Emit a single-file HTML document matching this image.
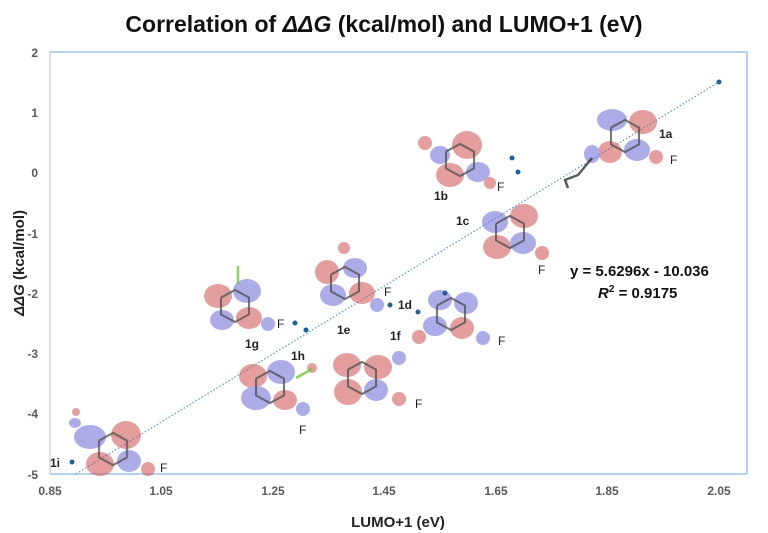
<!DOCTYPE html>
<html><head><meta charset="utf-8"><style>
html,body{margin:0;padding:0;background:#fff;}
svg{display:block;font-family:"Liberation Sans",sans-serif;}
</style></head><body>
<svg width="768" height="533" viewBox="0 0 768 533" xmlns="http://www.w3.org/2000/svg">
<defs>
<g id="ring">
  <polyline points="-20,-12 0,-23 20,-12 20,12 0,23 -20,12 -20,-12" fill="none" stroke="#555" stroke-width="3"/>
</g>
</defs>
<text x="384" y="32" text-anchor="middle" font-size="23" font-weight="bold" fill="#111">Correlation of <tspan font-style="italic">ΔΔG</tspan> (kcal/mol) and LUMO+1 (eV)</text>
<line x1="50" y1="52" x2="747" y2="52" stroke="#9cc3e6" stroke-width="1.5"/>
<line x1="747" y1="52" x2="747" y2="474" stroke="#9cc3e6" stroke-width="1.5"/>
<line x1="50" y1="52" x2="50" y2="474" stroke="#d9d9d9" stroke-width="1.5"/>
<line x1="50" y1="474" x2="747" y2="474" stroke="#9cc3e6" stroke-width="1.5"/>
<g font-size="12" font-weight="bold" fill="#595959" text-anchor="end">
<text x="38" y="57">2</text><text x="38" y="117">1</text><text x="38" y="177">0</text>
<text x="38" y="238">-1</text><text x="38" y="298">-2</text><text x="38" y="358">-3</text>
<text x="38" y="418">-4</text><text x="38" y="479">-5</text>
</g>
<g font-size="12" font-weight="bold" fill="#595959" text-anchor="middle">
<text x="50" y="495">0.85</text><text x="161" y="495">1.05</text><text x="273" y="495">1.25</text>
<text x="384" y="495">1.45</text><text x="496" y="495">1.65</text><text x="607" y="495">1.85</text><text x="719" y="495">2.05</text>
</g>
<text x="398" y="527" text-anchor="middle" font-size="15" font-weight="bold" fill="#222">LUMO+1 (eV)</text>
<text transform="translate(24,263) rotate(-90)" text-anchor="middle" font-size="15" font-weight="bold" fill="#222"><tspan font-style="italic">ΔΔG</tspan> (kcal/mol)</text>
<line x1="76" y1="474" x2="719" y2="82" stroke="#5b9bd5" stroke-width="1.3" stroke-dasharray="1.5,2"/>
<g opacity="0.55">
<ellipse cx="612" cy="120" rx="15" ry="11" fill="#6a6ad8"/><ellipse cx="643" cy="122" rx="14" ry="12" fill="#d05050"/>
<ellipse cx="610" cy="152" rx="12" ry="11" fill="#d05050"/><ellipse cx="637" cy="150" rx="13" ry="11" fill="#6a6ad8"/>
<ellipse cx="592" cy="154" rx="8" ry="9" fill="#6a6ad8"/><ellipse cx="656" cy="157" rx="7" ry="7" fill="#d05050"/>
<ellipse cx="425" cy="143" rx="7" ry="7" fill="#d05050"/><ellipse cx="467" cy="145" rx="15" ry="14" fill="#d05050"/>
<ellipse cx="440" cy="155" rx="10" ry="9" fill="#6a6ad8"/><ellipse cx="450" cy="175" rx="14" ry="12" fill="#d05050"/>
<ellipse cx="478" cy="172" rx="12" ry="10" fill="#6a6ad8"/><ellipse cx="490" cy="183" rx="6" ry="6" fill="#d05050"/>
<ellipse cx="495" cy="222" rx="13" ry="11" fill="#6a6ad8"/><ellipse cx="524" cy="216" rx="14" ry="12" fill="#d05050"/>
<ellipse cx="497" cy="247" rx="14" ry="12" fill="#d05050"/><ellipse cx="523" cy="243" rx="13" ry="11" fill="#6a6ad8"/>
<ellipse cx="542" cy="253" rx="7" ry="7" fill="#d05050"/>
<ellipse cx="344" cy="248" rx="6" ry="6" fill="#d05050"/><ellipse cx="355" cy="268" rx="12" ry="10" fill="#6a6ad8"/>
<ellipse cx="327" cy="272" rx="12" ry="12" fill="#d05050"/><ellipse cx="333" cy="295" rx="13" ry="11" fill="#6a6ad8"/>
<ellipse cx="362" cy="293" rx="13" ry="11" fill="#d05050"/><ellipse cx="377" cy="305" rx="7" ry="7" fill="#6a6ad8"/>
<ellipse cx="440" cy="300" rx="12" ry="10" fill="#6a6ad8"/><ellipse cx="466" cy="303" rx="12" ry="11" fill="#6a6ad8"/>
<ellipse cx="435" cy="326" rx="12" ry="10" fill="#6a6ad8"/><ellipse cx="462" cy="328" rx="12" ry="11" fill="#d05050"/>
<ellipse cx="419" cy="337" rx="7" ry="7" fill="#d05050"/><ellipse cx="483" cy="338" rx="7" ry="7" fill="#6a6ad8"/>
<ellipse cx="218" cy="296" rx="14" ry="12" fill="#d05050"/><ellipse cx="247" cy="291" rx="14" ry="12" fill="#6a6ad8"/>
<ellipse cx="222" cy="320" rx="12" ry="10" fill="#6a6ad8"/><ellipse cx="249" cy="318" rx="13" ry="11" fill="#d05050"/>
<ellipse cx="268" cy="324" rx="7" ry="7" fill="#6a6ad8"/>
<ellipse cx="253" cy="376" rx="14" ry="12" fill="#d05050"/><ellipse cx="281" cy="372" rx="14" ry="12" fill="#6a6ad8"/>
<ellipse cx="256" cy="398" rx="15" ry="12" fill="#6a6ad8"/><ellipse cx="285" cy="400" rx="12" ry="10" fill="#d05050"/>
<ellipse cx="303" cy="409" rx="7" ry="7" fill="#6a6ad8"/><ellipse cx="312" cy="368" rx="5" ry="5" fill="#d05050"/>
<ellipse cx="347" cy="365" rx="14" ry="12" fill="#d05050"/><ellipse cx="378" cy="367" rx="14" ry="12" fill="#d05050"/>
<ellipse cx="348" cy="392" rx="14" ry="13" fill="#d05050"/><ellipse cx="376" cy="390" rx="12" ry="11" fill="#6a6ad8"/>
<ellipse cx="399" cy="358" rx="7" ry="7" fill="#6a6ad8"/><ellipse cx="399" cy="399" rx="7" ry="7" fill="#d05050"/>
<ellipse cx="90" cy="437" rx="16" ry="12" fill="#6a6ad8"/><ellipse cx="126" cy="435" rx="15" ry="14" fill="#d05050"/>
<ellipse cx="100" cy="464" rx="14" ry="12" fill="#d05050"/><ellipse cx="129" cy="461" rx="12" ry="11" fill="#6a6ad8"/>
<ellipse cx="148" cy="469" rx="7" ry="7" fill="#d05050"/><ellipse cx="75" cy="423" rx="6" ry="5" fill="#6a6ad8"/>
<ellipse cx="76" cy="412" rx="4" ry="4" fill="#d05050"/>
</g>
<g stroke="#444" stroke-width="2.5" fill="none" opacity="0.8">
<use href="#ring" transform="translate(625,136) scale(0.7)"/>
<use href="#ring" transform="translate(460,160) scale(0.7)"/>
<use href="#ring" transform="translate(510,232) scale(0.7)"/>
<use href="#ring" transform="translate(345,283) scale(0.7)"/>
<use href="#ring" transform="translate(451,314) scale(0.7)"/>
<use href="#ring" transform="translate(235,306) scale(0.7)"/>
<use href="#ring" transform="translate(270,387) scale(0.7)"/>
<use href="#ring" transform="translate(362,378) scale(0.7)"/>
<use href="#ring" transform="translate(113,449) scale(0.7)"/>
<polyline points="592,158 578,175 565,180 568,188" stroke="#333"/>
<line x1="238" y1="266" x2="238" y2="284" stroke="#6c3"/>
<line x1="296" y1="378" x2="312" y2="369" stroke="#6c3"/>
</g>
<g fill="#1f5f9f">
<circle cx="719" cy="82" r="2.5"/><circle cx="512" cy="158" r="2.5"/><circle cx="518" cy="172" r="2.5"/>
<circle cx="445" cy="293" r="2.5"/><circle cx="418" cy="312" r="2.5"/><circle cx="390" cy="305" r="2.5"/>
<circle cx="295" cy="323" r="2.5"/><circle cx="306" cy="330" r="2.5"/><circle cx="72" cy="462" r="2.5"/>
</g>
<g font-size="12" font-weight="bold" fill="#222">
<text x="659" y="138">1a</text><text x="434" y="200">1b</text><text x="456" y="225">1c</text>
<text x="398" y="309">1d</text><text x="337" y="334">1e</text><text x="390" y="340">1f</text>
<text x="245" y="348">1g</text><text x="291" y="360">1h</text><text x="50" y="467">1i</text>
</g>
<g font-size="12" fill="#222">
<text x="670" y="164">F</text><text x="497" y="191">F</text><text x="538" y="274">F</text>
<text x="384" y="296">F</text><text x="498" y="345">F</text><text x="277" y="328">F</text>
<text x="299" y="434">F</text><text x="415" y="408">F</text><text x="160" y="472">F</text>
</g>
<text x="570" y="276" font-size="15" font-weight="bold" fill="#111">y = 5.6296x - 10.036</text>
<text x="598" y="298" font-size="15" font-weight="bold" fill="#111"><tspan font-style="italic">R</tspan><tspan font-size="10" dy="-6">2</tspan><tspan dy="6"> = 0.9175</tspan></text>
</svg>
</body></html>
